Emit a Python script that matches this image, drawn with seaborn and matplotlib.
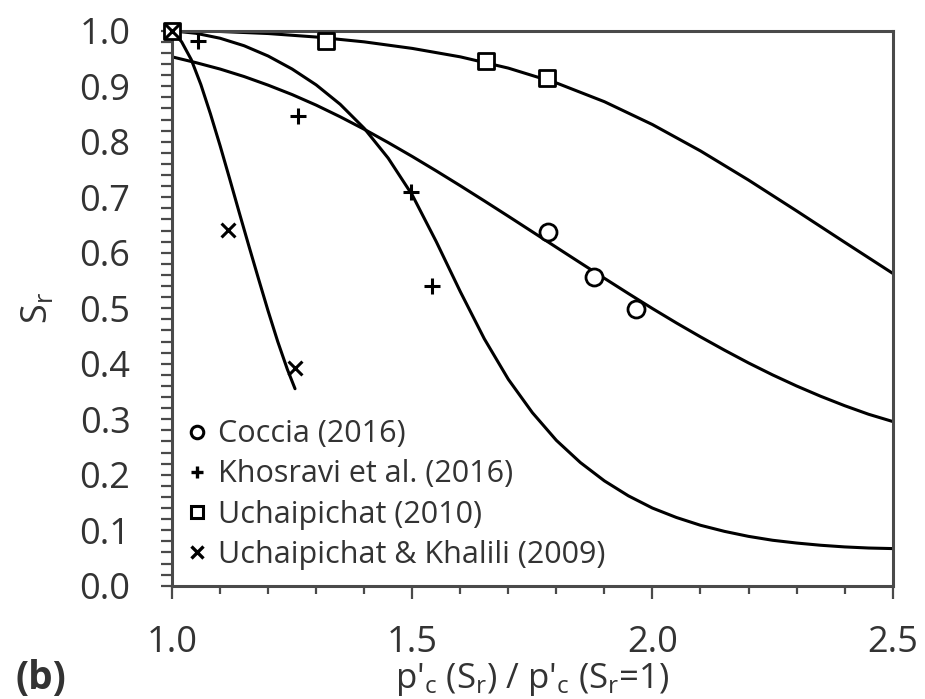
import numpy as np
import pandas as pd
import seaborn as sns
import matplotlib.pyplot as plt
from matplotlib.ticker import MultipleLocator
from matplotlib.lines import Line2D

# Measured points (normalised preconsolidation stress vs degree of saturation)
coccia_x = [1.782, 1.878, 1.965]
coccia_y = [0.637, 0.556, 0.498]
khosravi_x = [1.0, 1.054, 1.262, 1.497, 1.541]
khosravi_y = [1.0, 0.982, 0.847, 0.709, 0.540]
uchai2010_x = [1.0, 1.320, 1.653, 1.780]
uchai2010_y = [1.0, 0.982, 0.946, 0.915]
uchai2009_x = [1.0, 1.117, 1.256]
uchai2009_y = [1.0, 0.641, 0.392]

# Model curves
fit_coccia_x = [1.0, 1.05, 1.1, 1.15, 1.2, 1.25, 1.3, 1.35, 1.4, 1.45, 1.5, 1.55,
                1.6, 1.65, 1.7, 1.75, 1.8, 1.85, 1.9, 1.95, 2.0, 2.05, 2.1, 2.15,
                2.2, 2.25, 2.3, 2.35, 2.4, 2.45, 2.5]
fit_coccia_y = [0.953, 0.9425, 0.931, 0.9175, 0.902, 0.885, 0.866, 0.845, 0.8225,
                0.7985, 0.7735, 0.7475, 0.7208, 0.6935, 0.6658, 0.6378, 0.6098,
                0.5818, 0.554, 0.5265, 0.4995, 0.4735, 0.4485, 0.4245, 0.4015,
                0.380, 0.360, 0.3415, 0.3245, 0.309, 0.296]
fit_khosravi_x = [1.0, 1.05, 1.1, 1.15, 1.2, 1.25, 1.3, 1.35, 1.4, 1.45, 1.5, 1.55,
                  1.6, 1.65, 1.7, 1.75, 1.8, 1.85, 1.9, 1.95, 2.0, 2.05, 2.1, 2.15,
                  2.2, 2.25, 2.3, 2.35, 2.4, 2.45, 2.5]
fit_khosravi_y = [1.0, 0.9954, 0.9865, 0.973, 0.9545, 0.931, 0.9025, 0.8675, 0.8242,
                  0.7704, 0.7041, 0.620, 0.530, 0.445, 0.372, 0.312, 0.262, 0.222,
                  0.189, 0.162, 0.140, 0.123, 0.109, 0.098, 0.089, 0.082, 0.077,
                  0.073, 0.070, 0.068, 0.067]
fit_uchai2010_x = [1.0, 1.1, 1.2, 1.3, 1.4, 1.5, 1.6, 1.7, 1.8, 1.9, 2.0, 2.1, 2.2,
                   2.3, 2.4, 2.5]
fit_uchai2010_y = [1.0, 0.9987, 0.995, 0.9887, 0.980, 0.9682, 0.953, 0.9327, 0.906,
                   0.8722, 0.831, 0.7835, 0.731, 0.6755, 0.619, 0.563]
fit_uchai2009_x = [1.0, 1.02, 1.04, 1.06, 1.08, 1.10, 1.12, 1.14, 1.16, 1.18, 1.20,
                   1.22, 1.24, 1.256]
fit_uchai2009_y = [1.0, 0.980, 0.948, 0.903, 0.850, 0.793, 0.733, 0.672, 0.612,
                   0.553, 0.495, 0.440, 0.390, 0.355]

labels = ["Coccia (2016)", "Khosravi et al. (2016)", "Uchaipichat (2010)",
          "Uchaipichat & Khalili (2009)"]
markers = ["o", "+", "s", "x"]

sns.set_style("ticks")
plt.rcParams["font.family"] = ["Open Sans", "DejaVu Sans"]
plt.rcParams["mathtext.default"] = "regular"

txt = "#333333"
edge = "#4a4a4a"
fig = plt.figure(figsize=(9.25, 6.99), dpi=100)
ax = fig.add_axes([0.186, 0.162, 0.779, 0.794])

fits = [(fit_coccia_x, fit_coccia_y), (fit_khosravi_x, fit_khosravi_y),
        (fit_uchai2010_x, fit_uchai2010_y), (fit_uchai2009_x, fit_uchai2009_y)]
for fx, fy in fits:
    df = pd.DataFrame({"x": fx, "y": fy})
    sns.lineplot(data=df, x="x", y="y", ax=ax, color="black", lw=2.2,
                 sort=False, estimator=None, legend=False)

pts = [(coccia_x, coccia_y), (khosravi_x, khosravi_y),
       (uchai2010_x, uchai2010_y), (uchai2009_x, uchai2009_y)]
sizes = [150, 130, 120, 100]
for (px, py), m, s in zip(pts, markers, sizes):
    df = pd.DataFrame({"x": px, "y": py})
    if m in ("+", "x"):
        sns.scatterplot(data=df, x="x", y="y", ax=ax, marker=m, s=s,
                        color="black", linewidth=2.2, clip_on=False, zorder=5)
    else:
        sns.scatterplot(data=df, x="x", y="y", ax=ax, marker=m, s=s,
                        facecolor="white", edgecolor="black", linewidth=2.0,
                        clip_on=False, zorder=5)

ax.set_xlim(1.0, 2.5)
ax.set_ylim(0.0, 1.0)
ax.xaxis.set_major_locator(MultipleLocator(0.5))
ax.xaxis.set_minor_locator(MultipleLocator(0.1))
ax.yaxis.set_major_locator(MultipleLocator(0.1))
ax.yaxis.set_minor_locator(MultipleLocator(0.02))
ax.xaxis.set_major_formatter(lambda v, p: f"{v:.1f}")
ax.yaxis.set_major_formatter(lambda v, p: f"{v:.1f}")

for side in ["left", "right", "top", "bottom"]:
    ax.spines[side].set_visible(True)
    ax.spines[side].set_linewidth(2.2)
    ax.spines[side].set_color(edge)

ax.tick_params(axis="x", which="major", direction="out", length=9, width=1.6,
               pad=19, labelsize=26, labelcolor=txt, color=edge)
ax.tick_params(axis="x", which="minor", direction="out", length=6, width=1.6,
               color=edge)
ax.tick_params(axis="y", which="major", direction="out", length=8, width=1.6,
               pad=22, labelsize=26, labelcolor=txt, color=edge)
ax.tick_params(axis="y", which="minor", direction="out", length=8, width=1.6,
               color=edge)

ax.set_xlabel("p'$_c$ (S$_r$) / p'$_c$ (S$_r$=1)", fontsize=25, color=txt, labelpad=0)
ax.set_ylabel("S$_r$", fontsize=26, color=txt, labelpad=17)

handles = []
for m in markers:
    if m in ("+", "x"):
        handles.append(Line2D([], [], ls="none", marker=m, color="black",
                              markersize=9, markeredgewidth=2.4))
    else:
        handles.append(Line2D([], [], ls="none", marker=m, markerfacecolor="white",
                              markeredgecolor="black", markersize=9,
                              markeredgewidth=2.2))
leg = ax.legend(handles, labels, loc="lower left", bbox_to_anchor=(0.011, 0.018),
                frameon=False, fontsize=22, handlelength=0.74, handletextpad=0.32,
                labelspacing=0.33, borderaxespad=0.0, borderpad=0.2,
                labelcolor=txt)

fig.text(0.044, 0.03, "(b)", fontsize=28, fontweight="bold", color=txt,
         ha="center", va="center")

fig.savefig("out.png", dpi=100)
